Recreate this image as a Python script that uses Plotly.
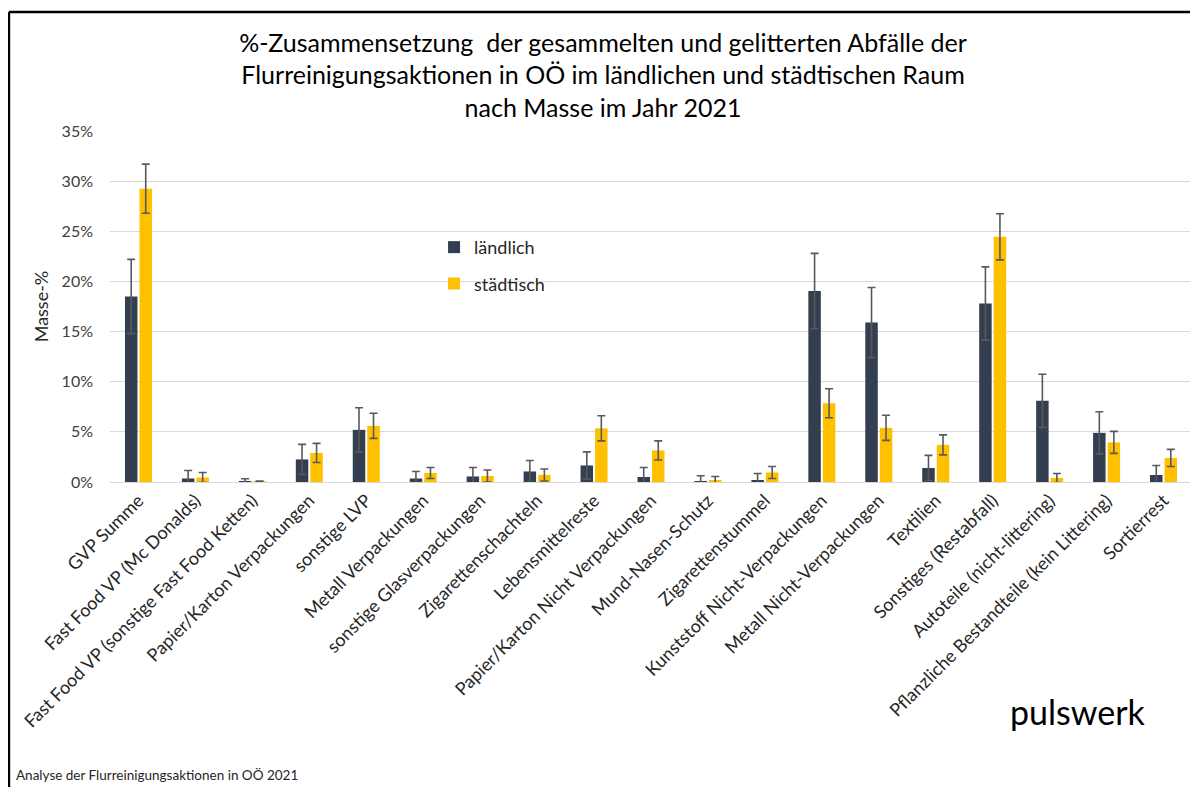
import plotly.graph_objects as go

categories = [
    "GVP Summe",
    "Fast Food VP (Mc Donalds)",
    "Fast Food VP (sonstige Fast Food Ketten)",
    "Papier/Karton Verpackungen",
    "sonstige LVP",
    "Metall Verpackungen",
    "sonstige Glasverpackungen",
    "Zigarettenschachteln",
    "Lebensmittelreste",
    "Papier/Karton Nicht Verpackungen",
    "Mund-Nasen-Schutz",
    "Zigarettenstummel",
    "Kunststoff Nicht-Verpackungen",
    "Metall Nicht-Verpackungen",
    "Textilien",
    "Sonstiges (Restabfall)",
    "Autoteile (nicht-littering)",
    "Pflanzliche Bestandteile (kein Littering)",
    "Sortierrest",
]

laendlich = [18.5, 0.35, 0.03, 2.25, 5.2, 0.35, 0.55, 1.05, 1.65, 0.5, 0.02, 0.15,
             19.05, 15.9, 1.4, 17.8, 8.1, 4.9, 0.7]
laendlich_err = [3.7, 0.8, 0.3, 1.5, 2.2, 0.7, 0.9, 1.1, 1.35, 0.95, 0.6, 0.7,
                 3.75, 3.5, 1.25, 3.65, 2.65, 2.1, 0.95]

staedtisch = [29.25, 0.45, 0.05, 2.9, 5.6, 0.9, 0.6, 0.7, 5.35, 3.15, 0.2, 0.95,
              7.85, 5.4, 3.7, 24.45, 0.4, 3.95, 2.4]
staedtisch_err = [2.45, 0.5, 0.05, 0.95, 1.25, 0.55, 0.6, 0.6, 1.25, 0.95, 0.35, 0.6,
                  1.45, 1.25, 1.0, 2.3, 0.45, 1.1, 0.85]

FONT = "Lato"
ERR = dict(type="data", color="#595959", thickness=1.6, width=4)

fig = go.Figure()
fig.add_bar(
    x=categories,
    y=laendlich,
    name="ländlich",
    legendgroup="a",
    marker_color="#333F50",
    marker_line_width=0,
    error_y=dict(array=laendlich_err, **ERR),
)
fig.add_bar(
    x=categories,
    y=staedtisch,
    name="städtisch",
    legendgroup="b",
    marker_color="#FFC000",
    marker_line_width=0,
    error_y=dict(array=staedtisch_err, **ERR),
)

# frame lines (left + top) of the original picture
frame = dict(type="line", xref="paper", yref="paper", line=dict(color="black", width=2.5))

fig.update_layout(
    width=1190,
    height=779,
    barmode="group",
    bargap=0.49,
    bargroupgap=0.14,
    margin=dict(l=102, r=6, t=123, b=305),
    paper_bgcolor="white",
    plot_bgcolor="white",
    font=dict(family=FONT, size=16, color="#404040"),
    title=dict(
        text="%-Zusammensetzung  der gesammelten und gelitterten Abfälle der<br>"
             "Flurreinigungsaktionen in OÖ im ländlichen und städtischen Raum<br>"
             "nach Masse im Jahr 2021",
        x=0.5, xref="container", xanchor="center",
        y=0.9436, yref="container", yanchor="top",
        font=dict(family=FONT, size=25, color="black"),
    ),
    legend=dict(
        x=0.2995, y=0.721, xanchor="left", yanchor="top",
        bgcolor="rgba(0,0,0,0)",
        font=dict(size=18, color="#262626"),
        tracegroupgap=10,
        itemwidth=30,
    ),
    xaxis=dict(
        tickangle=-45,
        tickfont=dict(size=18, color="#262626"),
        showgrid=False,
        showline=True,
        linecolor="#D9D9D9",
        linewidth=1,
        ticks="",
    ),
    yaxis=dict(
        range=[0, 35],
        dtick=5,
        ticksuffix="%",
        showgrid=True,
        gridcolor="#D9D9D9",
        gridwidth=1,
        zeroline=False,
        ticklabelstandoff=16,
        tickfont=dict(size=16, color="#404040"),
        title=dict(text="Masse-%", font=dict(size=18, color="#262626"), standoff=8),
    ),
    shapes=[
        dict(frame, x0=-0.0934, x1=-0.0934, y0=-0.87, y1=1.339),
        dict(frame, x0=-0.0934, x1=1.006, y0=1.339, y1=1.339),
    ],
    annotations=[
        dict(
            text="Analyse der Flurreinigungsaktionen in OÖ 2021",
            xref="paper", yref="paper", x=-0.0887, y=-0.835,
            xanchor="left", yanchor="middle", showarrow=False,
            font=dict(family=FONT, size=13.5, color="#262626"),
        ),
        dict(
            text="pulswerk",
            xref="paper", yref="paper", x=0.959, y=-0.655,
            xanchor="right", yanchor="middle", showarrow=False,
            font=dict(family=FONT, size=34, color="black"),
        ),
    ],
)

fig.write_html("out.html")
